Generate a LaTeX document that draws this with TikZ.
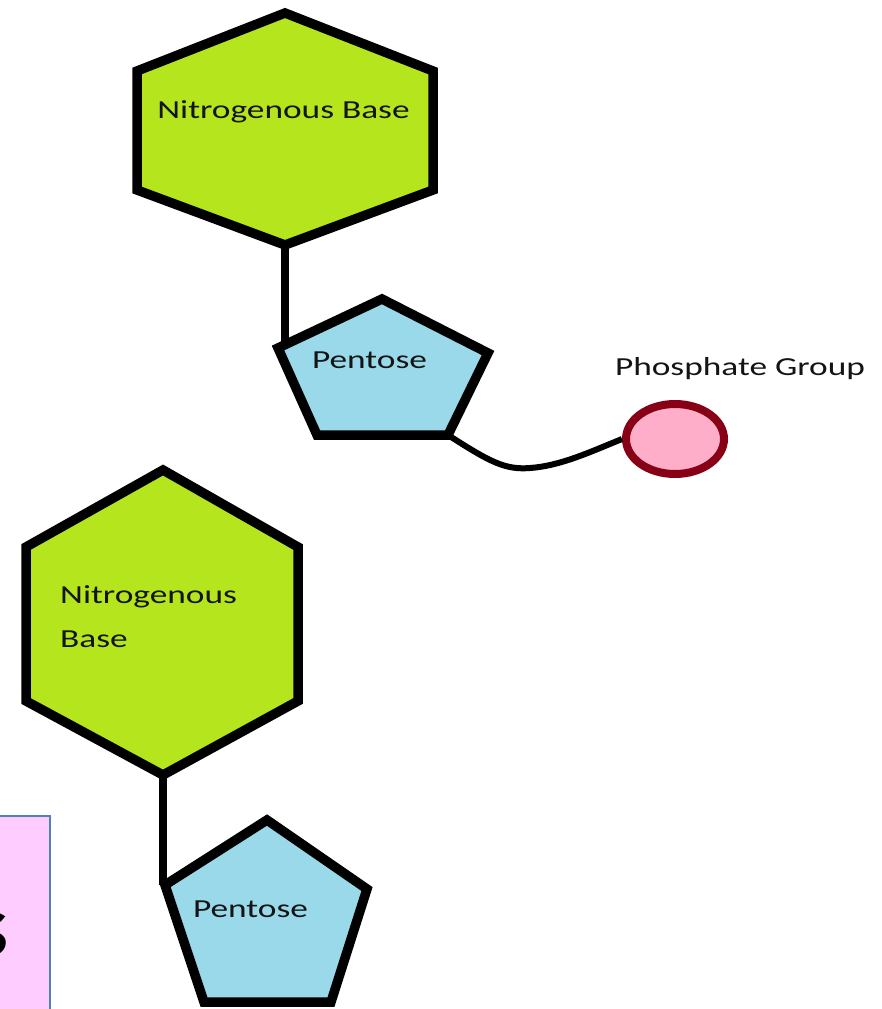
\documentclass[tikz,border=0pt]{standalone}
\usepackage{graphicx}
\usepackage{fontspec}
\setmainfont{Carlito}
\usetikzlibrary{shapes.geometric}
\definecolor{lime}{HTML}{B5E61D}
\definecolor{turq}{HTML}{99D9EA}
\definecolor{pinkfill}{HTML}{FFAEC9}
\definecolor{darkred}{HTML}{880015}
\definecolor{boxpink}{HTML}{FFCCFF}
\definecolor{boxblue}{HTML}{4F81BD}
\definecolor{txt}{HTML}{141414}
\newcommand{\sx}[1]{\scalebox{1.36}[1]{#1}}
\tikzset{
  hexshape/.style={draw=black, fill=lime, line width=9.5pt},
  pentshape/.style={draw=black, fill=turq, line width=9.5pt},
  stem/.style={draw=black, line width=8pt},
  label26/.style={font=\fontsize{26}{44}\selectfont, text=txt, inner sep=0pt},
  phos/.style={ellipse, draw=darkred, fill=pinkfill, line width=8pt, minimum width=98pt, minimum height=70pt, inner sep=0pt},
  sugarlink/.style={draw=black, line width=6pt},
}
\begin{document}
\begin{tikzpicture}[x=1pt,y=-1pt]
\useasboundingbox (0,0) rectangle (881,1009);
\clip (0,0) rectangle (881,1009);
% ---------- upper nucleotide ----------
\coordinate (h1t) at (285,13);
\coordinate (h1ur) at (433,71);
\coordinate (h1lr) at (433,190);
\coordinate (h1b) at (285,245);
\coordinate (h1ll) at (137,190);
\coordinate (h1ul) at (137,71);
\draw[hexshape] (h1t) -- (h1ur) -- (h1lr) -- (h1b) -- (h1ll) -- (h1ul) -- cycle;
\node[label26, anchor=base] (nb1) at (283.5,118) {\sx{Nitrogenous Base}};

\coordinate (p1t) at (382,299);
\coordinate (p1r) at (488,353);
\coordinate (p1br) at (448,435);
\coordinate (p1bl) at (317,435);
\coordinate (p1l) at (278,348);
\draw[stem] (h1b) -- (h1b |- p1l);
\draw[pentshape] (p1t) -- (p1r) -- (p1br) -- (p1bl) -- (p1l) -- cycle;
\node[label26, anchor=base] (pe1) at (369.5,368) {\sx{Pentose}};

\node[phos] (ph) at (675,439) {};
\node[label26, anchor=base] (phl) at (740,375) {\sx{Phosphate Group}};
\draw[sugarlink] (p1br) .. controls (490,462) and (505,470) .. (530,468)
  .. controls (560,466) and (590,452) .. (ph.west);

% ---------- lower nucleotide ----------
\coordinate (h2t) at (163,470);
\coordinate (h2ur) at (298,547);
\coordinate (h2lr) at (298,701);
\coordinate (h2b) at (163,775);
\coordinate (h2ll) at (26,701);
\coordinate (h2ul) at (26,547);
\draw[hexshape] (h2t) -- (h2ur) -- (h2lr) -- (h2b) -- (h2ll) -- (h2ul) -- cycle;
\node[label26, anchor=base west, align=left] (nb2) at (60,647) {\sx{Nitrogenous}\\\sx{Base}};

\coordinate (p2t) at (267,820);
\coordinate (p2r) at (367,889);
\coordinate (p2br) at (331,1002);
\coordinate (p2bl) at (204,1002);
\coordinate (p2l) at (165,885);
\draw[stem] (h2b) -- (h2b |- p2l);
\draw[pentshape] (p2t) -- (p2r) -- (p2br) -- (p2bl) -- (p2l) -- cycle;
\node[label26, anchor=base] (pe2) at (250.5,917) {\sx{Pentose}};

% ---------- cropped pink box ----------
\draw[fill=boxpink, draw=boxblue, line width=2pt] (-10,816) rectangle (50,1020);
\node[font=\bfseries\fontsize{94}{94}\selectfont, inner sep=0pt, anchor=base east] (s) at (10,957) {\sx{s}};
\end{tikzpicture}
\end{document}
